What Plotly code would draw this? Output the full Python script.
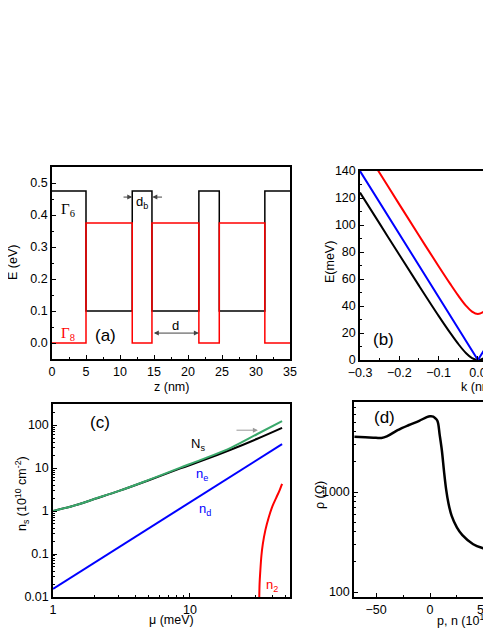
import math
import plotly.graph_objects as go

# (a) band edge profile of the superlattice
z_edges = [0, 5, 11.8, 14.7, 21.6, 24.6, 31.3, 35]
gamma6 = [0.475, 0.1, 0.475, 0.1, 0.475, 0.1, 0.475, 0.475]
gamma8 = [0.0, 0.375, 0.0, 0.375, 0.0, 0.375, 0.0, 0.0]

# (b) dispersion E(k)
k_vals = [-0.3, -0.25, -0.2, -0.15, -0.1, -0.07, -0.05, -0.03, -0.015, 0.0, 0.015, 0.03, 0.05]
e_black = [124, 101, 77.9, 55.1, 32.7, 19.9, 11.9, 5.0, 1.4, 0, 1.4, 5.0, 11.9]
e_red = [161.7, 138.5, 115.3, 92.2, 69.5, 56.2, 47.7, 40.1, 35.8, 34, 35.8, 40.1, 47.7]
k_blue = [-0.3, 0.0, 0.05]
e_blue = [140, 0, 23.4]

# (c) densities vs chemical potential
mu_vals = [1, 1.5, 2, 3, 5, 8.5, 12, 20, 31, 47]
n_green = [1.0, 1.4, 1.9, 2.9, 5.3, 10.2, 15.5, 30, 62, 124]
n_black = [1.0, 1.4, 1.9, 2.9, 5.2, 9.8, 14.5, 27, 48, 86]
mu_d = [1, 47]
n_d = [0.0155, 36]
mu_2 = [31.9, 32.2, 32.6, 33.2, 34, 35.5, 37.5, 40, 42.5, 45, 47]
n_2 = [0.003, 0.02, 0.04, 0.09, 0.17, 0.36, 0.7, 1.3, 2.0, 3.0, 4.3]

# (d) resistivity vs density
p_vals = [-70, -60, -50, -45, -40, -30, -20, -10, -3, 0, 3, 5, 7, 9, 11, 13, 15, 17, 20, 25, 30, 40, 50, 60]
rho = [3560, 3520, 3480, 3470, 3600, 4150, 4650, 5150, 5600, 5720, 5680, 5450, 5100, 3700, 2600,
       1600, 1050, 780, 580, 440, 370, 300, 272, 255]

W, H = 491, 635
OFF = 8  # page body margin
FONT = "Liberation Sans"


def fx(p):
    return (p - OFF) / W


def fy(p):
    return 1 - (p - OFF) / H


fig = go.Figure()

# panel a
fig.add_trace(go.Scatter(x=z_edges, y=gamma6, mode="lines", line=dict(color="black", width=1.5, shape="hv"),
                         xaxis="x", yaxis="y"))
fig.add_trace(go.Scatter(x=z_edges, y=gamma8, mode="lines", line=dict(color="#ff0000", width=1.5, shape="hv"),
                         xaxis="x", yaxis="y"))

# panel b
fig.add_trace(go.Scatter(x=k_vals, y=e_black, mode="lines", line=dict(color="black", width=2, shape="spline"),
                         xaxis="x2", yaxis="y2"))
fig.add_trace(go.Scatter(x=k_blue, y=e_blue, mode="lines", line=dict(color="#0000ff", width=2),
                         xaxis="x2", yaxis="y2"))
fig.add_trace(go.Scatter(x=k_vals, y=e_red, mode="lines", line=dict(color="#ff0000", width=2, shape="spline"),
                         xaxis="x2", yaxis="y2"))

# panel c
fig.add_trace(go.Scatter(x=mu_vals, y=n_black, mode="lines", line=dict(color="black", width=2, shape="spline"),
                         xaxis="x3", yaxis="y3"))
fig.add_trace(go.Scatter(x=mu_vals, y=n_green, mode="lines", line=dict(color="#3aa86b", width=2, shape="spline"),
                         xaxis="x3", yaxis="y3"))
fig.add_trace(go.Scatter(x=mu_d, y=n_d, mode="lines", line=dict(color="#0000ff", width=2),
                         xaxis="x3", yaxis="y3"))
fig.add_trace(go.Scatter(x=mu_2, y=n_2, mode="lines", line=dict(color="#ff0000", width=2, shape="spline"),
                         xaxis="x3", yaxis="y3"))

# panel d
fig.add_trace(go.Scatter(x=p_vals, y=rho, mode="lines", line=dict(color="black", width=2.5, shape="spline"),
                         xaxis="x4", yaxis="y4"))

axis_common = dict(showline=True, linecolor="black", linewidth=1.5, ticks="inside", ticklen=4,
                   tickwidth=1.3, tickcolor="black", showgrid=False, zeroline=False, automargin=False,
                   tickfont=dict(family=FONT, size=12.5, color="black"))
minor_lin = lambda d: dict(ticks="inside", ticklen=2.5, tickwidth=1.2, tickcolor="black", dtick=d, showgrid=False)
minor_log = dict(ticks="inside", ticklen=2.5, tickwidth=1.2, tickcolor="black", dtick="D1", showgrid=False)

fig.update_layout(
    width=W, height=H, margin=dict(l=0, r=0, t=0, b=0, pad=0, autoexpand=False),
    paper_bgcolor="white", plot_bgcolor="white", showlegend=False,
    xaxis=dict(domain=[fx(52), fx(290)], range=[0, 35], dtick=5, mirror=True, anchor="y",
               minor=minor_lin(2.5), **axis_common),
    yaxis=dict(domain=[fy(359), fy(167)], range=[-0.05, 0.55], dtick=0.1, tickformat=".1f", mirror=True,
               anchor="x", minor=minor_lin(0.05), **axis_common),
    xaxis2=dict(domain=[fx(360), fx(491)], range=[-0.3, 0.0333], dtick=0.1, tickformat=".1f", mirror=True,
                anchor="y2", minor=minor_lin(0.05), **axis_common),
    yaxis2=dict(domain=[fy(360), fy(171)], range=[0, 140], dtick=20, anchor="x2",
                minor=minor_lin(10), **axis_common),
    xaxis3=dict(type="log", domain=[fx(53), fx(290)], range=[0, 1.73], tickvals=[1, 10], mirror=True,
                anchor="y3", minor=minor_log, **axis_common),
    yaxis3=dict(type="log", domain=[fy(597), fy(404)], range=[-2, 2.49], tickvals=[0.01, 0.1, 1, 10, 100],
                ticktext=["0.01", "0.1", "1", "10", "100"], mirror=True, anchor="x3",
                minor=minor_log, **axis_common),
    xaxis4=dict(domain=[fx(354), fx(491)], range=[-70.4, 56.5], dtick=50, mirror=True, anchor="y4",
                minor=minor_lin(25), **axis_common),
    yaxis4=dict(type="log", domain=[fy(597), fy(402)], range=[1.95, 3.9], tickvals=[100, 1000],
                ticktext=["100", "1000"], anchor="x4", minor=minor_log, **axis_common),
)

ann = []


def txt(text, x, y, xref="paper", yref="paper", size=12.5, color="black", angle=0, xanchor="center",
        family=FONT):
    ann.append(dict(text=text, x=x, y=y, xref=xref, yref=yref, showarrow=False, textangle=angle,
                    xanchor=xanchor, yanchor="middle", font=dict(family=family, size=size, color=color)))


def arrow(x, y, ax, ay, xref, yref, color="#444444", side="end"):
    ann.append(dict(x=x, y=y, ax=ax, ay=ay, xref=xref, yref=yref, axref=xref, ayref=yref, text="",
                    showarrow=True, arrowhead=2, arrowsize=1, arrowwidth=1, arrowcolor=color,
                    arrowside=side))


# axis titles
txt("E (eV)", fx(13), fy(263), angle=-90)
txt("z (nm)", fx(171), fy(387))
txt("E(meV)", fx(330), fy(262), angle=-90)
txt("k (nm<sup>-1</sup>)", fx(459), fy(386), xanchor="left")
txt("n<sub>s</sub> (10<sup>10</sup> cm<sup>-2</sup>)", fx(22), fy(494), angle=-90)
txt("\u03bc (meV)", fx(171), fy(620))
txt("\u03c1 (\u03a9)", fx(320), fy(495), angle=-90)
txt("p, n (10<sup>10</sup> cm<sup>-2</sup>)", fx(435), fy(620), xanchor="left")

# panel labels
txt("(a)", 7.8, 0.022, "x", "y", size=17)
txt("(b)", -0.241, 15, "x2", "y2", size=17)
txt("(c)", math.log10(2.2), math.log10(112), "x3", "y3", size=17)
txt("(d)", -42, math.log10(5600), "x4", "y4", size=17)

# panel a annotations
txt("\u0393<sub>6</sub>", 2.4, 0.416, "x", "y", size=15, family="Liberation Serif")
txt("\u0393<sub>8</sub>", 2.4, 0.028, "x", "y", size=15, color="#ff0000", family="Liberation Serif")
txt("d<sub>b</sub>", 13.3, 0.44, "x", "y", size=13)
txt("d", 18.2, 0.056, "x", "y", size=13)
arrow(11.8, 0.456, 10.3, 0.456, "x", "y")
arrow(14.75, 0.456, 16.4, 0.456, "x", "y")
arrow(21.6, 0.031, 14.75, 0.031, "x", "y", side="end+start")

# panel c annotations
txt("N<sub>s</sub>", math.log10(11.4), math.log10(36), "x3", "y3", size=13)
txt("n<sub>e</sub>", math.log10(12.2), math.log10(6.9), "x3", "y3", size=13, color="#0000ff")
txt("n<sub>d</sub>", math.log10(12.9), math.log10(1.1), "x3", "y3", size=13, color="#0000ff")
txt("n<sub>2</sub>", math.log10(39.6), math.log10(0.019), "x3", "y3", size=13, color="#ff0000")
arrow(math.log10(31.3), math.log10(76), math.log10(21.3), math.log10(76), "x3", "y3", color="#999999")

# panel d annotation
arrow(55.6, math.log10(347), 55.6, math.log10(708), "x4", "y4", color="#999999")

fig.update_layout(annotations=ann)

fig.write_html("out.html")
